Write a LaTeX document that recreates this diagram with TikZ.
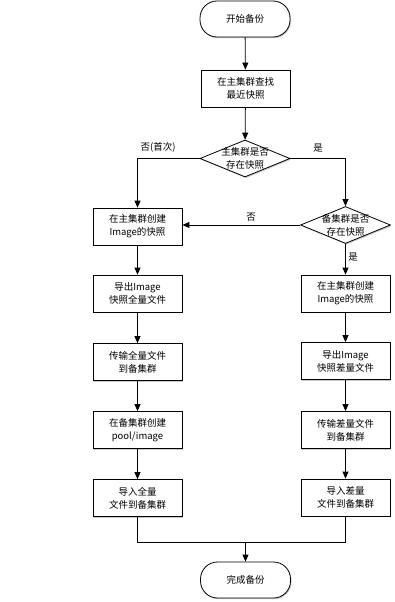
\documentclass[tikz,border=0pt]{standalone}
\usepackage{fontspec}
\setmainfont{Noto Sans CJK SC}
\usetikzlibrary{shapes.geometric,arrows.meta,shadows}
\begin{document}
\begin{tikzpicture}[x=1pt,y=-1pt,
  font=\fontsize{9.5}{13}\selectfont,
  shad/.style={drop shadow={shadow xshift=1pt,shadow yshift=-1.2pt,opacity=0.35,fill=black!60}},
  box/.style={draw,line width=0.8pt,fill=white,minimum width=89pt,minimum height=37pt,align=center,inner sep=1pt,shad},
  term/.style={draw,line width=0.8pt,fill=white,rounded corners=17pt,minimum width=90pt,minimum height=36pt,align=center,shad},
  dec/.style={draw,line width=0.8pt,fill=white,diamond,aspect=2.45,minimum width=90pt,minimum height=37pt,inner sep=0pt,shad},
  dtext/.style={align=center,inner sep=0pt,font=\fontsize{9.5}{13}\selectfont},
  arr/.style={-{Triangle[length=7pt,width=6pt]},line width=0.8pt},
  ln/.style={line width=0.8pt},
  lbl/.style={font=\fontsize{9.5}{12}\selectfont}]
\useasboundingbox (0,0) rectangle (395,602);
\node[term] (start) at (245,19) {开始备份};
\node[box] (find) at (245.5,88.5) {在主集群查找\\最近快照};
\node[dec,label={[dtext]center:{主集群是否\\存在快照}}] (d1) at (245,158.5) {};
\node[dec,label={[dtext]center:{备集群是否\\存在快照}}] (d2) at (345.5,225) {};
\node[box] (L1) at (137.5,226.5) {在主集群创建\\Image的快照};
\node[box] (L2) at (137.5,293.5) {导出Image\\快照全量文件};
\node[box] (L3) at (137.5,362) {传输全量文件\\到备集群};
\node[box] (L4) at (137.5,430) {在备集群创建\\pool/image};
\node[box] (L5) at (137.5,498) {导入全量\\文件到备集群};
\node[box] (R1) at (345.5,293.5) {在主集群创建\\Image的快照};
\node[box] (R2) at (345.5,361) {导出Image\\快照差量文件};
\node[box] (R3) at (345.5,430) {传输差量文件\\到备集群};
\node[box] (R4) at (345.5,497.5) {导入差量\\文件到备集群};
\node[term] (end) at (245.5,580) {完成备份};
\coordinate (m) at (245.5,542);

\draw[arr] (start) -- (find);
\draw[arr] (find) -- (d1);
\draw[arr] (d1.west) -| (L1.north);
\draw[arr] (d1.east) -| (d2.north);
\draw[arr] (d2.west) -- (L1.east |- d2.west);
\draw[arr] (d2) -- (R1);
\draw[arr] (L1) -- (L2);
\draw[arr] (L2) -- (L3);
\draw[arr] (L3) -- (L4);
\draw[arr] (L4) -- (L5);
\draw[arr] (R1) -- (R2);
\draw[arr] (R2) -- (R3);
\draw[arr] (R3) -- (R4);
\draw[ln] (L5.south) |- (m);
\draw[ln] (R4.south) |- (m);
\draw[arr] (m) -- (end.north);

\node[lbl] (l1) at (158,147) {否(首次)};
\node[lbl] (l2) at (318,148) {是};
\node[lbl] (l3) at (251,217) {否};
\node[lbl] (l4) at (353,257) {是};
\end{tikzpicture}
\end{document}
